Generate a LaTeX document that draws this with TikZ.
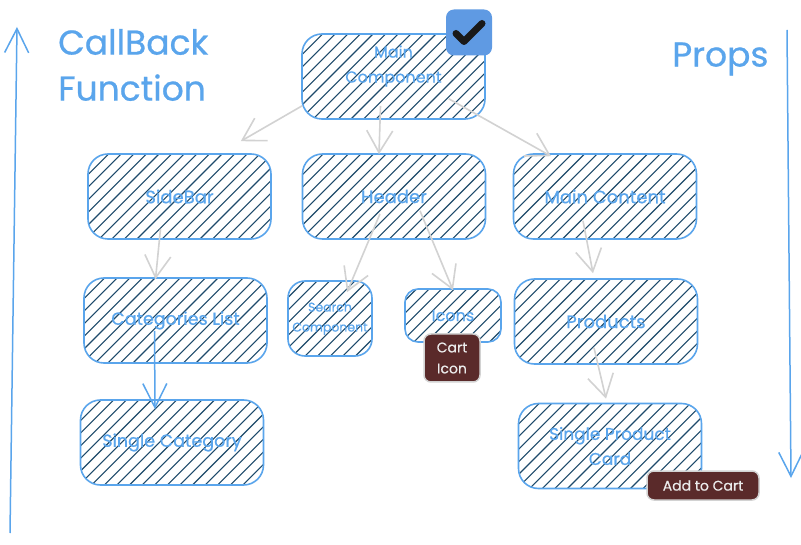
\documentclass[tikz,border=0pt]{standalone}
\usepackage{fontspec}
\setmainfont{Poppins}[FakeBold=0.6]
\usetikzlibrary{arrows.meta,calc}
\definecolor{sketchblue}{HTML}{5AA5EC}
\definecolor{hatchcol}{HTML}{1E4A6B}
\definecolor{edgegray}{HTML}{D2D2D2}
\definecolor{badgeblue}{HTML}{5F9AE3}
\definecolor{badgebrown}{HTML}{5A2A2A}
\tikzset{
  x=1pt,y=-1pt,
  hatchbox/.style n args={2}{draw=sketchblue,line width=1.6pt,rounded corners=#2,
    minimum width=#1,inner sep=0pt,align=center,text=sketchblue,font=\fontsize{18}{24}\selectfont,
    path picture={\foreach \i in {-30,...,30}{
      \draw[hatchcol,line width=1.1pt] ($(path picture bounding box.center)+(\i*12.6-150,150)$) -- ++(300,-300);}}},
  bigbox/.style={hatchbox={183pt}{20pt},minimum height=85pt},
  sgray/.style={draw=edgegray,line width=1.6pt,-{Straight Barb[length=22pt,width=26pt,line width=1.6pt]}},
  sblue/.style={draw=sketchblue,line width=1.5pt,-{Straight Barb[length=24pt,width=24pt,line width=1.5pt]}},
  titletext/.style={text=sketchblue,font=\fontsize{34.5}{46}\selectfont,inner sep=0pt,align=left},
  darkbadge/.style={fill=badgebrown,draw=edgegray,line width=1.5pt,rounded corners=7pt,text=white!92!black,
    inner sep=0pt,align=center,font=\fontsize{14}{21}\selectfont},
}
\begin{document}
\begin{tikzpicture}
\useasboundingbox[fill=white] (0,0) rectangle (801,545);
% boxes
\node[bigbox,font=\fontsize{16}{25}\selectfont] (main) at (393.5,76.5) {Main\\Component\\ ~};
\node[bigbox] (sidebar) at (179.5,196.5) {SideBar};
\node[bigbox] (header) at (394,196.5) {Header};
\node[bigbox] (content) at (605,196.5) {Main Content};
\node[bigbox,font=\fontsize{17.5}{24}\selectfont] (cats) at (175.5,320.5) {Categories List};
\node[hatchbox={84pt}{17pt},minimum height=75pt,font=\fontsize{12.5}{20}\selectfont] (search) at (330,318.5) {Search\\Component};
\node[hatchbox={96pt}{13pt},minimum height=53pt,font=\fontsize{16}{20}\selectfont] (icons) at (453,315.5) {Icons};
\node[bigbox] (products) at (606,321.5) {Products};
\node[bigbox,font=\fontsize{17.5}{24}\selectfont] (singlecat) at (172,442.5) {Single Category};
\node[bigbox,font=\fontsize{17}{25}\selectfont] (singleprod) at (610,446) {Single Product\\Card};
% badges
\node[fill=badgeblue,rounded corners=8pt,minimum width=46pt,minimum height=46pt,inner sep=0pt] (check) at (469,32.5) {};
\draw[line width=7pt,line cap=round,line join=round,black!90] ($(check)+(-13,1)$) -- ($(check)+(-5,9)$) -- ($(check)+(13,-9)$);
\node[darkbadge,minimum width=56pt,minimum height=48pt] (cart) at (452,358) {Cart\\Icon};
\node[darkbadge,minimum width=112pt,minimum height=29pt,font=\fontsize{14}{18}\selectfont] (addcart) at (703,485.5) {Add to Cart};
% titles
\node[titletext,anchor=west] (cb) at (58,65) {CallBack\\Function};
\node[titletext,anchor=west] (props) at (672,59) {Props};
% gray connectors
\draw[sgray] ($(main.south west)+(1,-14)$) -- ($(sidebar.north east)+(-31,-12)$);
\draw[sgray] ($(main.south)+(-13,-14)$) -- ($(header.north)+(-15,1)$);
\draw[sgray] ($(main.south east)+(-37,-21)$) -- ($(content.north)+(-54,3)$);
\draw[sgray] ($(sidebar.south)+(-19,-11)$) -- ($(cats.north)+(-20,2)$);
\draw[sgray] ($(header.south)+(-14,-26)$) -- ($(search.north)+(17,12)$);
\draw[sgray] ($(header.south)+(26,-29)$) -- ($(icons.north)+(0,2)$);
\draw[sgray] ($(content.south)+(-22,-19)$) -- ($(products.north)+(-13,-5)$);
\draw[sgray] ($(products.south)+(-12,-17)$) -- ($(singleprod.north)+(-4,-4)$);
% blue connectors
\draw[sblue] ($(cats.south)+(-21,-33)$) -- ($(singlecat.north)+(-17,10)$);
\coordinate (leftbottom) at (10,533);
\coordinate (lefttop) at (17,27);
\coordinate (righttop) at (787,30);
\coordinate (rightbottom) at (791,478);
\draw[sblue] (leftbottom) -- (lefttop);
\draw[sblue] (righttop) -- (rightbottom);
\end{tikzpicture}
\end{document}
